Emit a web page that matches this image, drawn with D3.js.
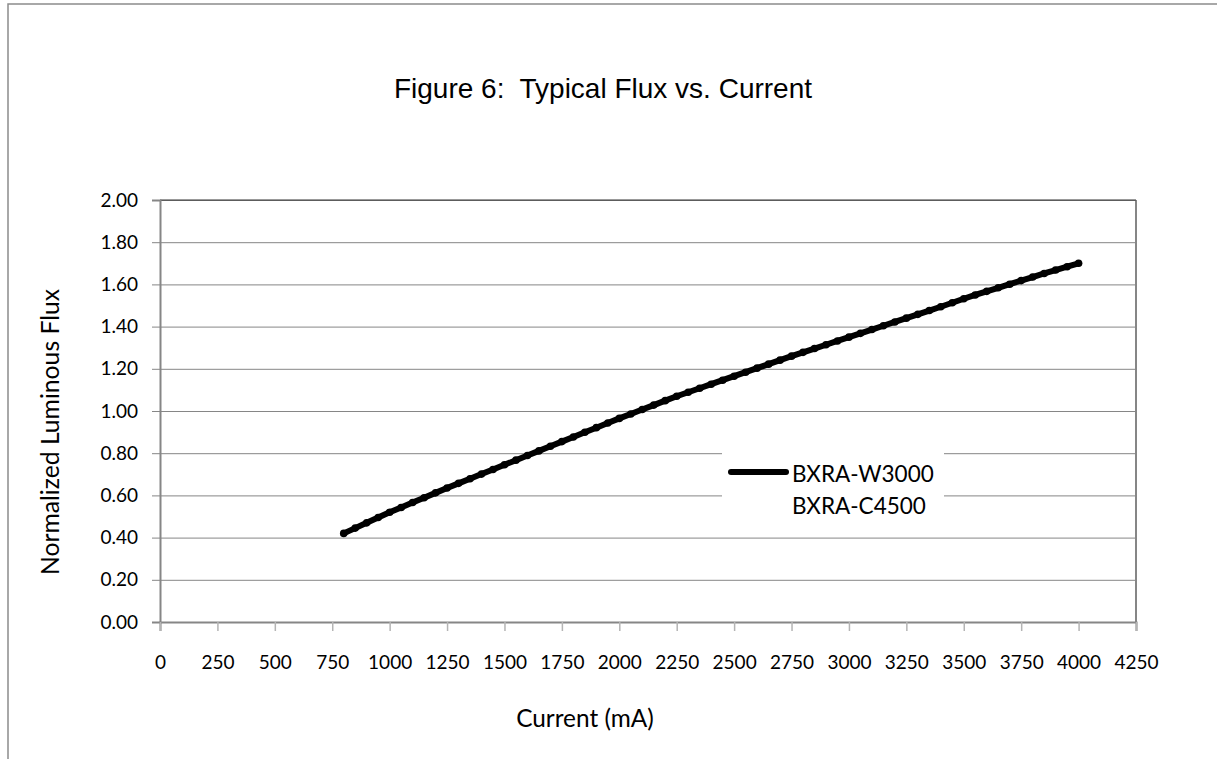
<!DOCTYPE html>
<html>
<head>
<meta charset="utf-8">
<script src="https://cdn.jsdelivr.net/npm/d3@7.9.0/dist/d3.min.js"></script>
<style>
  html, body { margin: 0; padding: 0; background: #fff; }
  svg { display: block; }
</style>
</head>
<body>
<div id="chart"></div>
<script>
// Data
const currentMA = [
  800, 850, 900, 950, 1000, 1050, 1100, 1150, 1200, 1250,
  1300, 1350, 1400, 1450, 1500, 1550, 1600, 1650, 1700, 1750,
  1800, 1850, 1900, 1950, 2000, 2050, 2100, 2150, 2200, 2250,
  2300, 2350, 2400, 2450, 2500, 2550, 2600, 2650, 2700, 2750,
  2800, 2850, 2900, 2950, 3000, 3050, 3100, 3150, 3200, 3250,
  3300, 3350, 3400, 3450, 3500, 3550, 3600, 3650, 3700, 3750,
  3800, 3850, 3900, 3950, 4000
];
const fluxW3000 = [
  0.420, 0.445, 0.470, 0.495, 0.520, 0.543, 0.566, 0.589, 0.612, 0.635,
  0.657, 0.679, 0.701, 0.723, 0.745, 0.767, 0.789, 0.811, 0.833, 0.855,
  0.877, 0.899, 0.921, 0.943, 0.965, 0.986, 1.007, 1.028, 1.049, 1.070,
  1.089, 1.108, 1.127, 1.146, 1.165, 1.184, 1.203, 1.222, 1.241, 1.260,
  1.278, 1.296, 1.314, 1.332, 1.350, 1.368, 1.386, 1.404, 1.422, 1.440,
  1.458, 1.476, 1.494, 1.513, 1.532, 1.550, 1.567, 1.584, 1.601, 1.618,
  1.635, 1.652, 1.668, 1.684, 1.700
];
const seriesNames = ['BXRA-W3000', 'BXRA-C4500'];
const xTicks = d3.range(0, 4251, 250);
const yTicks = [0, 0.2, 0.4, 0.6, 0.8, 1.0, 1.2, 1.4, 1.6, 1.8, 2.0];

const W = 1217, H = 759;
const plot = { left: 160, top: 200, right: 1136, bottom: 622 };
const labelFont = 'Lato, "Open Sans", sans-serif';

const svg = d3.select('#chart').append('svg')
  .attr('width', W)
  .attr('height', H);

// outer chart frame
svg.append('rect')
  .attr('x', 8).attr('y', 4)
  .attr('width', W + 20).attr('height', H + 20)
  .attr('fill', '#fff')
  .attr('stroke', '#8c8c8c')
  .attr('stroke-width', 1.5);

const x = d3.scaleLinear().domain([0, 4250]).range([plot.left, plot.right]);
const y = d3.scaleLinear().domain([0, 2]).range([plot.bottom, plot.top]);

// horizontal gridlines
svg.append('g')
  .attr('transform', `translate(${plot.left},0)`)
  .call(d3.axisLeft(y).tickValues(yTicks).tickFormat('').tickSize(-(plot.right - plot.left)))
  .call(g => g.select('.domain').remove())
  .call(g => g.selectAll('line').attr('stroke', '#868686').attr('stroke-width', 1));

// right border
svg.append('line')
  .attr('x1', plot.right).attr('x2', plot.right)
  .attr('y1', plot.top).attr('y2', plot.bottom)
  .attr('stroke', '#868686').attr('stroke-width', 2);

// top border
svg.append('line')
  .attr('x1', plot.left).attr('x2', plot.right)
  .attr('y1', plot.top).attr('y2', plot.top)
  .attr('stroke', '#333').attr('stroke-width', 1);

// Y axis
svg.append('g')
  .attr('transform', `translate(${plot.left},0)`)
  .call(d3.axisLeft(y).tickValues(yTicks).tickFormat(d3.format('.2f')).tickSize(8).tickPadding(14))
  .call(g => g.select('.domain').attr('stroke', '#868686').attr('stroke-width', 2))
  .call(g => g.selectAll('.tick line').attr('stroke', '#868686'))
  .call(g => g.selectAll('.tick text')
    .attr('font-family', labelFont).attr('font-size', 19).attr('fill', '#000'));

// X axis
svg.append('g')
  .attr('transform', `translate(0,${plot.bottom})`)
  .call(d3.axisBottom(x).tickValues(xTicks).tickFormat(d3.format('d')).tickSize(9).tickPadding(25))
  .call(g => g.select('.domain').attr('stroke', '#868686').attr('stroke-width', 2))
  .call(g => g.selectAll('.tick line').attr('stroke', '#b4b4b4').attr('stroke-width', 1.5))
  .call(g => g.selectAll('.tick text')
    .attr('font-family', labelFont).attr('font-size', 19).attr('fill', '#000'));

// series line
const pts = currentMA.map((c, i) => [c, fluxW3000[i]]);
const line = d3.line().x(d => x(d[0])).y(d => y(d[1]));

svg.append('path')
  .datum(pts)
  .attr('d', line)
  .attr('fill', 'none')
  .attr('stroke', '#000')
  .attr('stroke-width', 6)
  .attr('stroke-linecap', 'round')
  .attr('stroke-linejoin', 'round');

svg.append('g')
  .selectAll('circle')
  .data(pts)
  .join('circle')
  .attr('cx', d => x(d[0]))
  .attr('cy', d => y(d[1]))
  .attr('r', 3.8)
  .attr('fill', '#000');

// legend
const legend = svg.append('g');
legend.append('rect')
  .attr('x', 722).attr('y', 446)
  .attr('width', 222).attr('height', 82)
  .attr('fill', '#fff');
legend.append('line')
  .attr('x1', 731).attr('x2', 786)
  .attr('y1', 472).attr('y2', 472)
  .attr('stroke', '#000').attr('stroke-width', 6)
  .attr('stroke-linecap', 'round');
legend.selectAll('text')
  .data(seriesNames)
  .join('text')
  .attr('x', 792)
  .attr('y', (d, i) => 482 + i * 32)
  .attr('font-family', labelFont)
  .attr('font-size', 22.5)
  .attr('fill', '#000')
  .text(d => d);

// title
svg.append('text')
  .attr('x', 603).attr('y', 98)
  .attr('text-anchor', 'middle')
  .attr('font-family', 'Arial, "Liberation Sans", sans-serif')
  .attr('font-size', 28)
  .style('white-space', 'pre')
  .attr('fill', '#000')
  .text('Figure 6:  Typical Flux vs. Current');

// axis titles
svg.append('text')
  .attr('transform', 'translate(59,432) rotate(-90)')
  .attr('text-anchor', 'middle')
  .attr('font-family', labelFont)
  .attr('font-size', 24.7)
  .attr('fill', '#000')
  .text('Normalized Luminous Flux');

svg.append('text')
  .attr('x', 585).attr('y', 727)
  .attr('text-anchor', 'middle')
  .attr('font-family', labelFont)
  .attr('font-size', 24.4)
  .attr('fill', '#000')
  .text('Current (mA)');
</script>
</body>
</html>
